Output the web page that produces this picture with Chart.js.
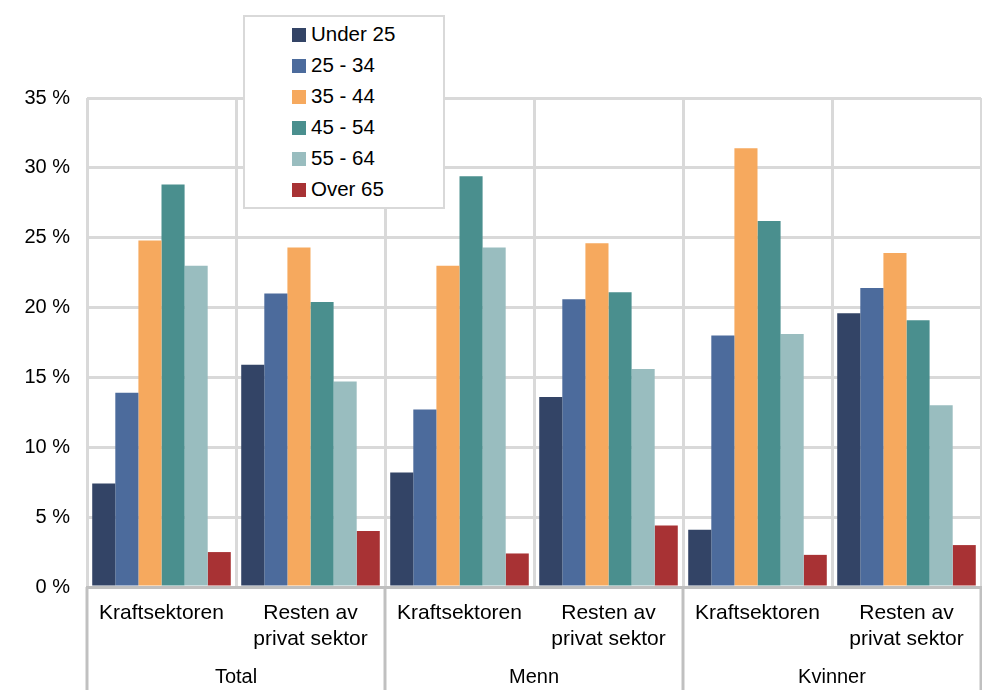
<!DOCTYPE html>
<html>
<head>
<meta charset="utf-8">
<script src="https://cdn.jsdelivr.net/npm/chart.js@4/dist/chart.umd.min.js"></script>
<style>
  body { margin: 0; background: #fff; }
  #wrap { position: relative; width: 982px; height: 699px; }
  #legend {
    position: absolute; left: 243px; top: 15px; width: 198px; height: 190px;
    background: #fff; border: 2px solid #d9d9d9;
    font-family: "Liberation Sans", Arial, sans-serif; font-size: 20.5px; color: #000;
  }
  #legend div { position: absolute; left: 47px; height: 31px; line-height: 31px; white-space: nowrap; }
  #legend span { display: inline-block; width: 14px; height: 14px; margin-right: 5px; vertical-align: -1px; }
</style>
</head>
<body>
<div id="wrap">
  <canvas id="chart" width="982" height="699"></canvas>
  <div id="legend"></div>
</div>
<script>
// === DONNÉES ===
const categories = [
  "Kraftsektoren", ["Resten av", "privat sektor"],
  "Kraftsektoren", ["Resten av", "privat sektor"],
  "Kraftsektoren", ["Resten av", "privat sektor"]
];
const groups = ["Total", "Menn", "Kvinner"];
const seriesNames = ["Under 25", "25 - 34", "35 - 44", "45 - 54", "55 - 64", "Over 65"];
const colors = ["#334466", "#4c6b9c", "#f6a95e", "#4a8f8e", "#99bdbf", "#a83234"];

const under25 = [7.4, 15.9, 8.2, 13.6, 4.1, 19.6];
const age25_34 = [13.9, 21.0, 12.7, 20.6, 18.0, 21.4];
const age35_44 = [24.8, 24.3, 23.0, 24.6, 31.4, 23.9];
const age45_54 = [28.8, 20.4, 29.4, 21.1, 26.2, 19.1];
const age55_64 = [23.0, 14.7, 24.3, 15.6, 18.1, 13.0];
const over65 = [2.5, 4.0, 2.4, 4.4, 2.3, 3.0];
const yTicks = [0, 5, 10, 15, 20, 25, 30, 35];

const values = [under25, age25_34, age35_44, age45_54, age55_64, over65];
const FONT = "'Liberation Sans', Arial, sans-serif";

// lignes de séparation sous l'axe (groupes)
const groupLines = {
  id: "groupLines",
  afterDraw(chart) {
    const x = chart.scales.x, ctx = chart.ctx, a = chart.chartArea;
    const n = categories.length;
    const edges = [0, 2, 4, 6].map(i => {
      if (i === 0) return x.getPixelForValue(0) - (x.getPixelForValue(1) - x.getPixelForValue(0)) / 2;
      if (i === n) return x.getPixelForValue(n - 1) + (x.getPixelForValue(n - 1) - x.getPixelForValue(n - 2)) / 2;
      return (x.getPixelForValue(i - 1) + x.getPixelForValue(i)) / 2;
    });
    ctx.save();
    ctx.strokeStyle = "#c0c0c0";
    ctx.lineWidth = 3;
    edges.forEach(px => {
      ctx.beginPath();
      ctx.moveTo(px, a.bottom);
      ctx.lineTo(px, 690);
      ctx.stroke();
    });
    ctx.restore();
  }
};

const chart = new Chart(document.getElementById("chart"), {
  type: "bar",
  data: {
    labels: categories,
    datasets: seriesNames.map((name, i) => ({
      label: name,
      data: values[i],
      backgroundColor: colors[i],
      categoryPercentage: 0.93,
      barPercentage: 1.0
    }))
  },
  options: {
    responsive: false,
    animation: false,
    layout: { padding: { top: 98, right: 1, left: 0, bottom: 0 } },
    plugins: { legend: { display: false }, tooltip: { enabled: false } },
    scales: {
      x: {
        offset: true,
        grid: { offset: true, color: "#d9d9d9", lineWidth: 3, drawTicks: false },
        border: { display: true, color: "#bfbfbf", width: 3 },
        ticks: { color: "#000", font: { family: FONT, size: 21, lineHeight: 1.25 }, padding: 13, maxRotation: 0, autoSkip: false },
        afterFit: s => { s.height = 64; }
      },
      groups: {
        type: "category",
        position: "bottom",
        labels: groups,
        offset: true,
        grid: { display: false },
        border: { display: false },
        ticks: { color: "#000", font: { family: FONT, size: 20 }, padding: 6 },
        afterFit: s => { s.height = 48; }
      },
      y: {
        min: 0, max: 35,
        afterBuildTicks: s => { s.ticks = yTicks.map(v => ({ value: v })); },
        grid: { color: "#d9d9d9", lineWidth: 3, drawTicks: false },
        border: { display: false },
        ticks: { color: "#000", font: { family: FONT, size: 20 }, padding: 17, callback: v => v + " %" },
        afterFit: s => { s.width = 87; }
      }
    }
  },
  plugins: [groupLines]
});

// === LÉGENDE ===
const legend = document.getElementById("legend");
chart.data.datasets.forEach((ds, i) => {
  const row = document.createElement("div");
  row.style.top = (1 + i * 31) + "px";
  row.innerHTML = `<span style="background:${ds.backgroundColor}"></span>${ds.label}`;
  legend.appendChild(row);
});
</script>
</body>
</html>
